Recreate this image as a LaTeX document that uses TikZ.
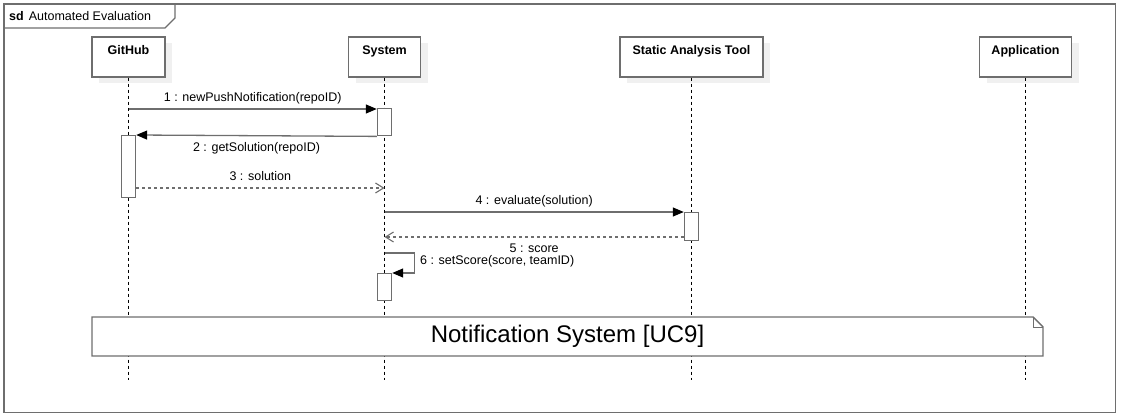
\documentclass[tikz,border=0pt]{standalone}
\usepackage{fontspec}
\setmainfont{Liberation Sans}
\usetikzlibrary{arrows.meta,shadows}
\definecolor{gristrait}{HTML}{6E6E6E}
\begin{document}
\begin{tikzpicture}[x=1pt,y=-1pt,font=\fontsize{12.5}{14}\selectfont]
% Styles
\tikzstyle{cadre}=[draw=gristrait,line width=1.4pt]
\tikzstyle{acteur}=[cadre,fill=white,font=\fontsize{12.5}{14}\selectfont\bfseries,minimum height=40pt,inner sep=0pt,text height=17pt,text depth=23pt,drop shadow={shadow xshift=7pt,shadow yshift=-6pt,fill=black!6,opacity=1}]
\tikzstyle{vie}=[black,line width=0.8pt,dash pattern=on 3pt off 3pt]
\tikzstyle{activation}=[cadre,fill=white,anchor=north,minimum width=14pt,inner sep=0pt]
\tikzstyle{appel}=[draw=gristrait,line width=1.3pt,-{Triangle[length=11pt,width=9pt,color=black]}]
\tikzstyle{retour}=[draw=gristrait,line width=1.1pt,dash pattern=on 3pt off 3pt,-{Straight Barb[length=8pt,width=10pt,color=gristrait]}]
\tikzstyle{etiq}=[inner sep=4pt,text height=9.5pt,text depth=2.5pt]
% Dimensions
\def\xGit{128.5}
\def\xSys{384.5}
\def\xOut{691.5}
\def\xApp{1025.5}
\def\yAct{57}
\def\finV{380}
\useasboundingbox (0,0) rectangle (1121,415);
% Cadre du diagramme
\draw[cadre] (4,4) rectangle (1115.5,412.5);
\draw[cadre] (4,28) -- (165,28) -- (175,18) -- (175,4);
\node[anchor=west,inner sep=0pt] (titre) at (9,16) {\textbf{sd}\hspace{5pt}Automated Evaluation};
% Participants
\node[acteur,minimum width=73pt] (github) at (\xGit,\yAct) {GitHub};
\node[acteur,minimum width=72pt] (systeme) at (\xSys,\yAct) {System};
\node[acteur,minimum width=143pt] (outil) at (\xOut,\yAct) {Static Analysis Tool};
\node[acteur,minimum width=92pt] (appli) at (\xApp,\yAct) {Application};
% Lignes de vie
\coordinate (bas) at (0,\finV);
\draw[vie] (github.south) -- (github.south |- bas);
\draw[vie] (systeme.south) -- (systeme.south |- bas);
\draw[vie] (outil.south) -- (outil.south |- bas);
\draw[vie] (appli.south) -- (appli.south |- bas);
% Activations
\node[activation,minimum height=27pt] (act1) at (\xSys,108) {};
\node[activation,minimum height=62pt] (act2) at (\xGit,135) {};
\node[activation,minimum height=28pt] (act3) at (\xOut,212) {};
\node[activation,minimum height=27pt] (act4) at (\xSys,273) {};
% Messages
\coordinate (m1) at (\xGit,109);
\coordinate (m3) at (\xSys,188);
\coordinate (m4) at (\xSys,212);
\coordinate (m5) at (\xSys,237);
\coordinate (m6) at (\xSys,253);
\draw[appel] (m1) -- (m1 -| act1.west) node[etiq,above,midway] (e1) {1 : newPushNotification(repoID)};
\draw[appel] (act1.south west) -- (act2.north east) node[etiq,below,midway,yshift=-1.5pt] (e2) {2 : getSolution(repoID)};
\draw[retour] (act2.east |- m3) -- (m3) node[etiq,above,midway] (e3) {3 : solution};
\draw[appel] (m4) -- (act3.north west) node[etiq,above,midway] (e4) {4 : evaluate(solution)};
\draw[retour] (act3.west |- m5) -- (m5) node[etiq,below,midway,yshift=-1pt] (e5) {5 : score};
\draw[appel] (m6) -- ++(30,0) |- (act4.north east);
\node[etiq,anchor=west] (e6) at (416,261) {6 : setScore(score, teamID)};
% Note
\draw[cadre,fill=white] (92,317) -- (1033,317) -- (1043,327) -- (1043,356) -- (92,356) -- cycle;
\draw[draw=gristrait,line width=0.8pt] (1033,317) -- (1033,327) -- (1043,327);
\node[font=\fontsize{24}{28}\selectfont] (uc9) at (567.5,336) {Notification System [UC9]};
\end{tikzpicture}
\end{document}
